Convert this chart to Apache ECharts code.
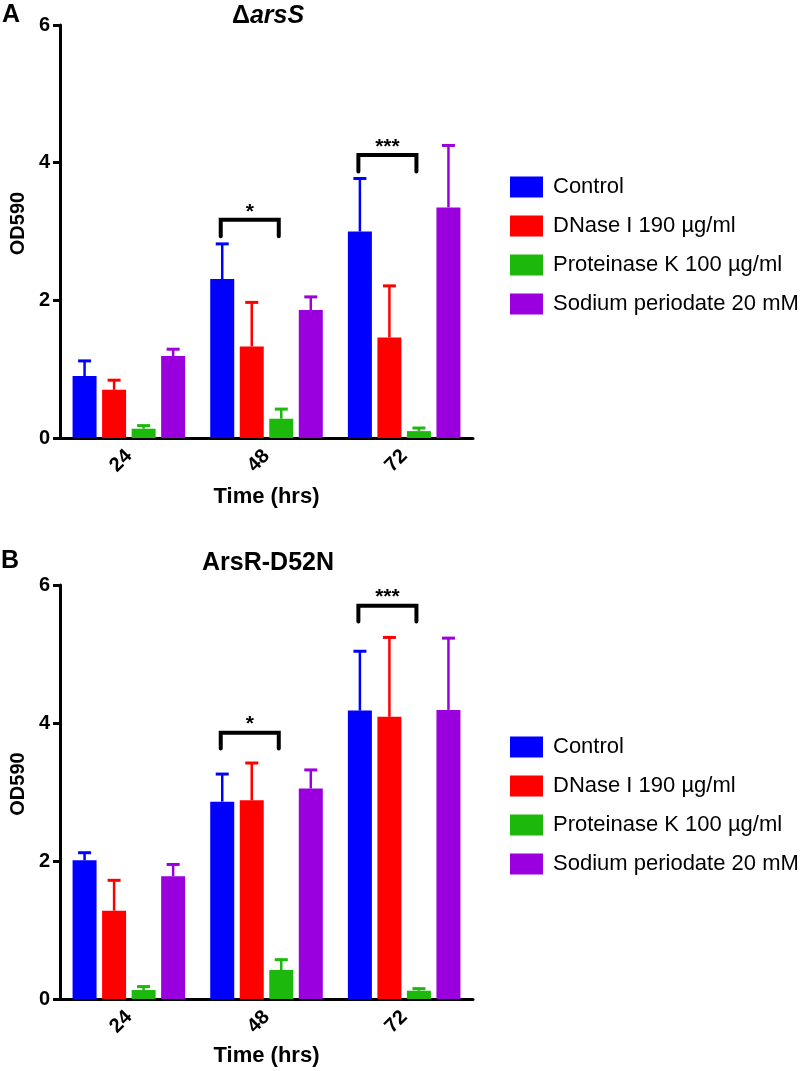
<!DOCTYPE html>
<html><head><meta charset="utf-8">
<script src="https://cdn.jsdelivr.net/npm/echarts/dist/echarts.min.js"></script>
<style>html,body{margin:0;padding:0;background:#fff}#c{width:800px;height:1071px}</style>
</head><body><div id="c"></div>
<script>
// ---------- data ----------
const categories = ['24', '48', '72'];
const seriesNames = ['Control', 'DNase I 190 µg/ml', 'Proteinase K 100 µg/ml', 'Sodium periodate 20 mM'];
const yTicks = [0, 2, 4, 6];

// Panel A (ΔarsS) means and upper error (SD)
const aControl   = [0.90, 2.31, 3.00];
const aDNase     = [0.70, 1.33, 1.46];
const aProtK     = [0.135, 0.28, 0.10];
const aPeriodate = [1.19, 1.86, 3.35];
const aControlSD   = [0.22, 0.51, 0.77];
const aDNaseSD     = [0.14, 0.64, 0.75];
const aProtKSD     = [0.045, 0.14, 0.045];
const aPeriodateSD = [0.10, 0.19, 0.90];

// Panel B (ArsR-D52N)
const bControl   = [2.01, 2.86, 4.18];
const bDNase     = [1.28, 2.88, 4.09];
const bProtK     = [0.13, 0.42, 0.12];
const bPeriodate = [1.78, 3.05, 4.19];
const bControlSD   = [0.11, 0.40, 0.86];
const bDNaseSD     = [0.44, 0.54, 1.15];
const bProtKSD     = [0.05, 0.15, 0.03];
const bPeriodateSD = [0.17, 0.27, 1.04];

// significance brackets: category, top, leg bottom, from series, to series
const aBrackets = [[1, 3.17, 2.93, 0, 2], [2, 4.11, 3.87, 0, 2]];
const bBrackets = [[1, 3.86, 3.63, 0, 2], [2, 5.70, 5.47, 0, 2]];
const bracketLabels = ['*', '***'];

// ---------- style ----------
const FONT = '"Liberation Sans", Arial, Helvetica, sans-serif';
const colors = ['#0000ff', '#ff0000', '#1db80c', '#9900dd'];
const BAR_W = 24, BAR_GAP = 0.23;
function barOffset(s) { return (s - 1.5) * BAR_W * (1 + BAR_GAP); }

function barSeries(g, means) {
  return means.map((arr, s) => ({
    type: 'bar', name: seriesNames[s], xAxisIndex: g, yAxisIndex: g,
    data: arr, barWidth: BAR_W, barGap: (BAR_GAP * 100) + '%',
    itemStyle: { color: colors[s] }, silent: true, z: 2
  }));
}

function errorSeries(g, means, sds) {
  const data = [];
  means.forEach((arr, s) => arr.forEach((m, c) => data.push([c, m, m + sds[s][c], s])));
  return {
    type: 'custom', xAxisIndex: g, yAxisIndex: g, z: 3, silent: true, data,
    renderItem(params, api) {
      const c = api.value(0), s = api.value(3);
      const base = api.coord([c, api.value(1)]);
      const top = api.coord([c, api.value(2)]);
      const x = base[0] + barOffset(s);
      const col = colors[s];
      return { type: 'group', children: [
        { type: 'line', shape: { x1: x, y1: base[1], x2: x, y2: top[1] }, style: { stroke: col, lineWidth: 2.5 } },
        { type: 'line', shape: { x1: x - 6.5, y1: top[1], x2: x + 6.5, y2: top[1] }, style: { stroke: col, lineWidth: 3 } }
      ]};
    }
  };
}

function bracketSeries(g, brackets) {
  return {
    type: 'custom', xAxisIndex: g, yAxisIndex: g, z: 4, silent: true, data: brackets,
    renderItem(params, api) {
      const c = api.value(0);
      const t = api.coord([c, api.value(1)]);
      const b = api.coord([c, api.value(2)]);
      const x1 = t[0] + barOffset(api.value(3)) - 1.5;
      const x2 = t[0] + barOffset(api.value(4)) - 2.5;
      return { type: 'group', children: [
        { type: 'polyline', shape: { points: [[x1, b[1]], [x1, t[1]], [x2, t[1]], [x2, b[1]]] },
          style: { stroke: '#000', lineWidth: 4, fill: null, lineCap: 'round' } },
        { type: 'text', x: (x1 + x2) / 2, y: t[1] - 8,
          style: { text: bracketLabels[params.dataIndex], fill: '#000', font: 'bold 21px ' + FONT,
                   align: 'center', verticalAlign: 'middle' } }
      ]};
    }
  };
}

const gridsPos = [{ left: 60, top: 25, width: 413, height: 413 }, { left: 60, top: 585, width: 413, height: 414 }];
const tickRich = { t: { fontSize: 20, fontWeight: 'bold', color: '#000', fontFamily: FONT } };

function xAxisFor(g, gap) {
  return {
    gridIndex: g, type: 'category', data: categories, boundaryGap: true,
    axisLine: { lineStyle: { color: '#000', width: 3 } },
    axisTick: { alignWithLabel: true, length: 10, lineStyle: { color: '#000', width: 3 } },
    axisLabel: { rotate: 45, margin: 15, formatter: '{t|{value}}', rich: tickRich },
    name: 'Time (hrs)', nameLocation: 'middle', nameGap: gap,
    nameTextStyle: { fontSize: 22, fontWeight: 'bold', color: '#000', fontFamily: FONT }
  };
}
function yAxisFor(g) {
  return {
    gridIndex: g, type: 'value', min: yTicks[0], max: yTicks[yTicks.length - 1], interval: 2,
    splitLine: { show: false },
    axisLine: { show: true, lineStyle: { color: '#000', width: 3 } },
    axisTick: { show: true, length: 7, lineStyle: { color: '#000', width: 3 } },
    axisLabel: { margin: 10, formatter: '{t|{value}}', rich: tickRich },
    name: 'OD590', nameLocation: 'middle', nameGap: 30, nameRotate: 90,
    nameTextStyle: { fontSize: 20, fontWeight: 'bold', color: '#000', fontFamily: FONT, padding: [0, 0, 0, 16] }
  };
}
function legendFor(top) {
  return {
    orient: 'vertical', left: 505, top: top, itemWidth: 33, itemHeight: 21, itemGap: 17,
    icon: 'rect', data: seriesNames, selectedMode: false, itemStyle: { borderWidth: 0 },
    textStyle: { fontSize: 22, color: '#000', fontFamily: FONT, lineHeight: 21, padding: [0, 0, 0, 5] }
  };
}

const chart = echarts.init(document.getElementById('c'), null, { renderer: 'canvas' });
chart.setOption({
  animation: false,
  backgroundColor: '#fff',
  textStyle: { fontFamily: FONT },
  grid: gridsPos,
  xAxis: [xAxisFor(0, 48), xAxisFor(1, 46)],
  yAxis: [yAxisFor(0), yAxisFor(1)],
  legend: [legendFor(171), legendFor(731)],
  graphic: [
    { type: 'text', x: 11, y: 15, style: { text: 'A', font: 'bold 25px ' + FONT, fill: '#000', align: 'center', verticalAlign: 'middle' } },
    { type: 'text', x: 268, y: 16, style: { text: '{d|Δ}{i|arsS}', fill: '#000', align: 'center', verticalAlign: 'middle',
        rich: { d: { fontSize: 25, fontWeight: 'bold', fontFamily: FONT }, i: { fontSize: 25, fontWeight: 'bold', fontStyle: 'italic', fontFamily: FONT } } } },
    { type: 'text', x: 10, y: 561, style: { text: 'B', font: 'bold 25px ' + FONT, fill: '#000', align: 'center', verticalAlign: 'middle' } },
    { type: 'text', x: 268, y: 563, style: { text: 'ArsR-D52N', font: 'bold 25px ' + FONT, fill: '#000', align: 'center', verticalAlign: 'middle' } }
  ],
  series: [
    ...barSeries(0, [aControl, aDNase, aProtK, aPeriodate]),
    errorSeries(0, [aControl, aDNase, aProtK, aPeriodate], [aControlSD, aDNaseSD, aProtKSD, aPeriodateSD]),
    bracketSeries(0, aBrackets),
    ...barSeries(1, [bControl, bDNase, bProtK, bPeriodate]),
    errorSeries(1, [bControl, bDNase, bProtK, bPeriodate], [bControlSD, bDNaseSD, bProtKSD, bPeriodateSD]),
    bracketSeries(1, bBrackets)
  ]
});
</script></body></html>
